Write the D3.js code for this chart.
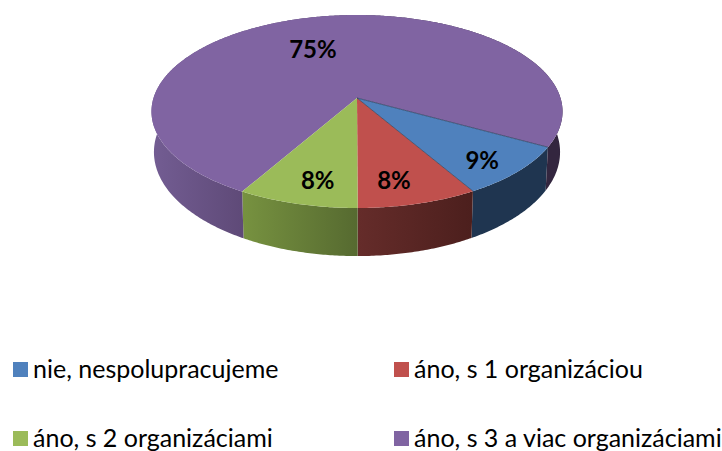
<!DOCTYPE html>
<html><head><meta charset="utf-8">
<script src="https://cdn.jsdelivr.net/npm/d3@7"></script>
<style>html,body{margin:0;padding:0;background:#fff}svg{display:block}</style>
</head><body><svg id="c" width="722" height="451"></svg>
<script>
const categories = ["nie, nespolupracujeme","áno, s 1 organizáciou","áno, s 2 organizáciami","áno, s 3 a viac organizáciami"];
const values = [8.6, 8.3, 8.3, 74.8];
const colors = ["#4f81bd","#c0504d","#9bbb59","#8064a2"];
const sideStops = [
  [[0,"#1f3550"],[1,"#1f3550"]],
  [[0,"#652c2a"],[1,"#4c1f1d"]],
  [[0,"#779240"],[1,"#566a30"]],
  [[0,"#735d93"],[0.22,"#5f4a78"],[0.5,"#4a3a5e"],[0.93,"#33263f"],[1,"#33263f"]]
];
const firstAngle = 119;

const svg = d3.select("#c");
const FONT = "Lato, Carlito, sans-serif";
const cx = 357, apexY = 98, A = 203.5, B = 94.6, k = 0.14;
const botY = 137.5, botSx = 0.988, botSy = 1.078;

const project = (t, r, y0, sx, sy) => {
  const u = r*Math.sin(t), v = -r*Math.cos(t), w = 1 - k*v;
  return [cx + sx*A*u/w, y0 + sy*B*v/w];
};
const topPt = (t,r=1)=>project(t,r,apexY,1,1);
const botPt = t=>project(t,1,botY,botSx,botSy);
const sample = (a0,a1)=>{const n=Math.max(2,Math.ceil((a1-a0)/0.01));return d3.range(n+1).map(i=>a0+(a1-a0)*i/n);};
const line = d3.line();

const s0 = firstAngle*Math.PI/180;
const arcs = d3.pie().sort(null).startAngle(s0).endAngle(s0+2*Math.PI)(values);

const defs = svg.append("defs");
arcs.forEach((d,i)=>{
  const ts = sample(d.startAngle,d.endAngle);
  const xs = ts.map(t=>topPt(t)[0]);
  const g = defs.append("linearGradient").attr("id","side"+i).attr("gradientUnits","userSpaceOnUse")
    .attr("x1",d3.min(xs)).attr("x2",d3.max(xs)).attr("y1",0).attr("y2",0);
  sideStops[i].forEach(s=>g.append("stop").attr("offset",s[0]).attr("stop-color",s[1]));
});

// sides
arcs.forEach((d,i)=>{
  const ts = sample(d.startAngle,d.endAngle);
  const pts = ts.map(t=>topPt(t)).concat(ts.slice().reverse().map(t=>botPt(t)));
  svg.append("path").attr("d",line(pts)+"Z").attr("fill",`url(#side${i})`);
});
// top face
[3,0,1,2].forEach(i=>{
  const d = arcs[i];
  const pts = [[cx,apexY]].concat(sample(d.startAngle,d.endAngle).map(t=>topPt(t)));
  svg.append("path").attr("d",line(pts)+"Z").attr("fill",colors[i]);
});
// slice borders of the blue slice
[arcs[0].startAngle,arcs[0].endAngle].forEach(t=>{
  svg.append("path").attr("d",line([[cx,apexY],topPt(t)])).attr("stroke","#1f3550").attr("stroke-width",0.8).attr("stroke-opacity",0.8).attr("fill","none");
});

// labels
const labelR = [0.83,0.798,0.8,0.594];
const labelDeg = [137.3,168.3,192.4,-23.1];
arcs.forEach((d,i)=>{
  const p = topPt(labelDeg[i]*Math.PI/180,labelR[i]);
  svg.append("text").attr("x",p[0]).attr("y",p[1]+8).attr("text-anchor","middle")
    .attr("font-family",FONT).attr("font-weight",700).attr("font-size",24).attr("fill","#000")
    .text(d3.format(".0f")(d.data)+"%");
});

// legend
const col = d3.scaleOrdinal().domain([0,1]).range([13,394]);
const row = d3.scaleOrdinal().domain([0,1]).range([362,431]);
categories.forEach((c,i)=>{
  const x = col(i%2), y = row(Math.floor(i/2));
  svg.append("rect").attr("x",x).attr("y",y).attr("width",15).attr("height",15).attr("fill",colors[i]);
  svg.append("text").attr("x",x+20).attr("y",y+16).attr("font-family",FONT).attr("font-size",25).attr("fill","#000").text(c);
});
</script></body></html>
